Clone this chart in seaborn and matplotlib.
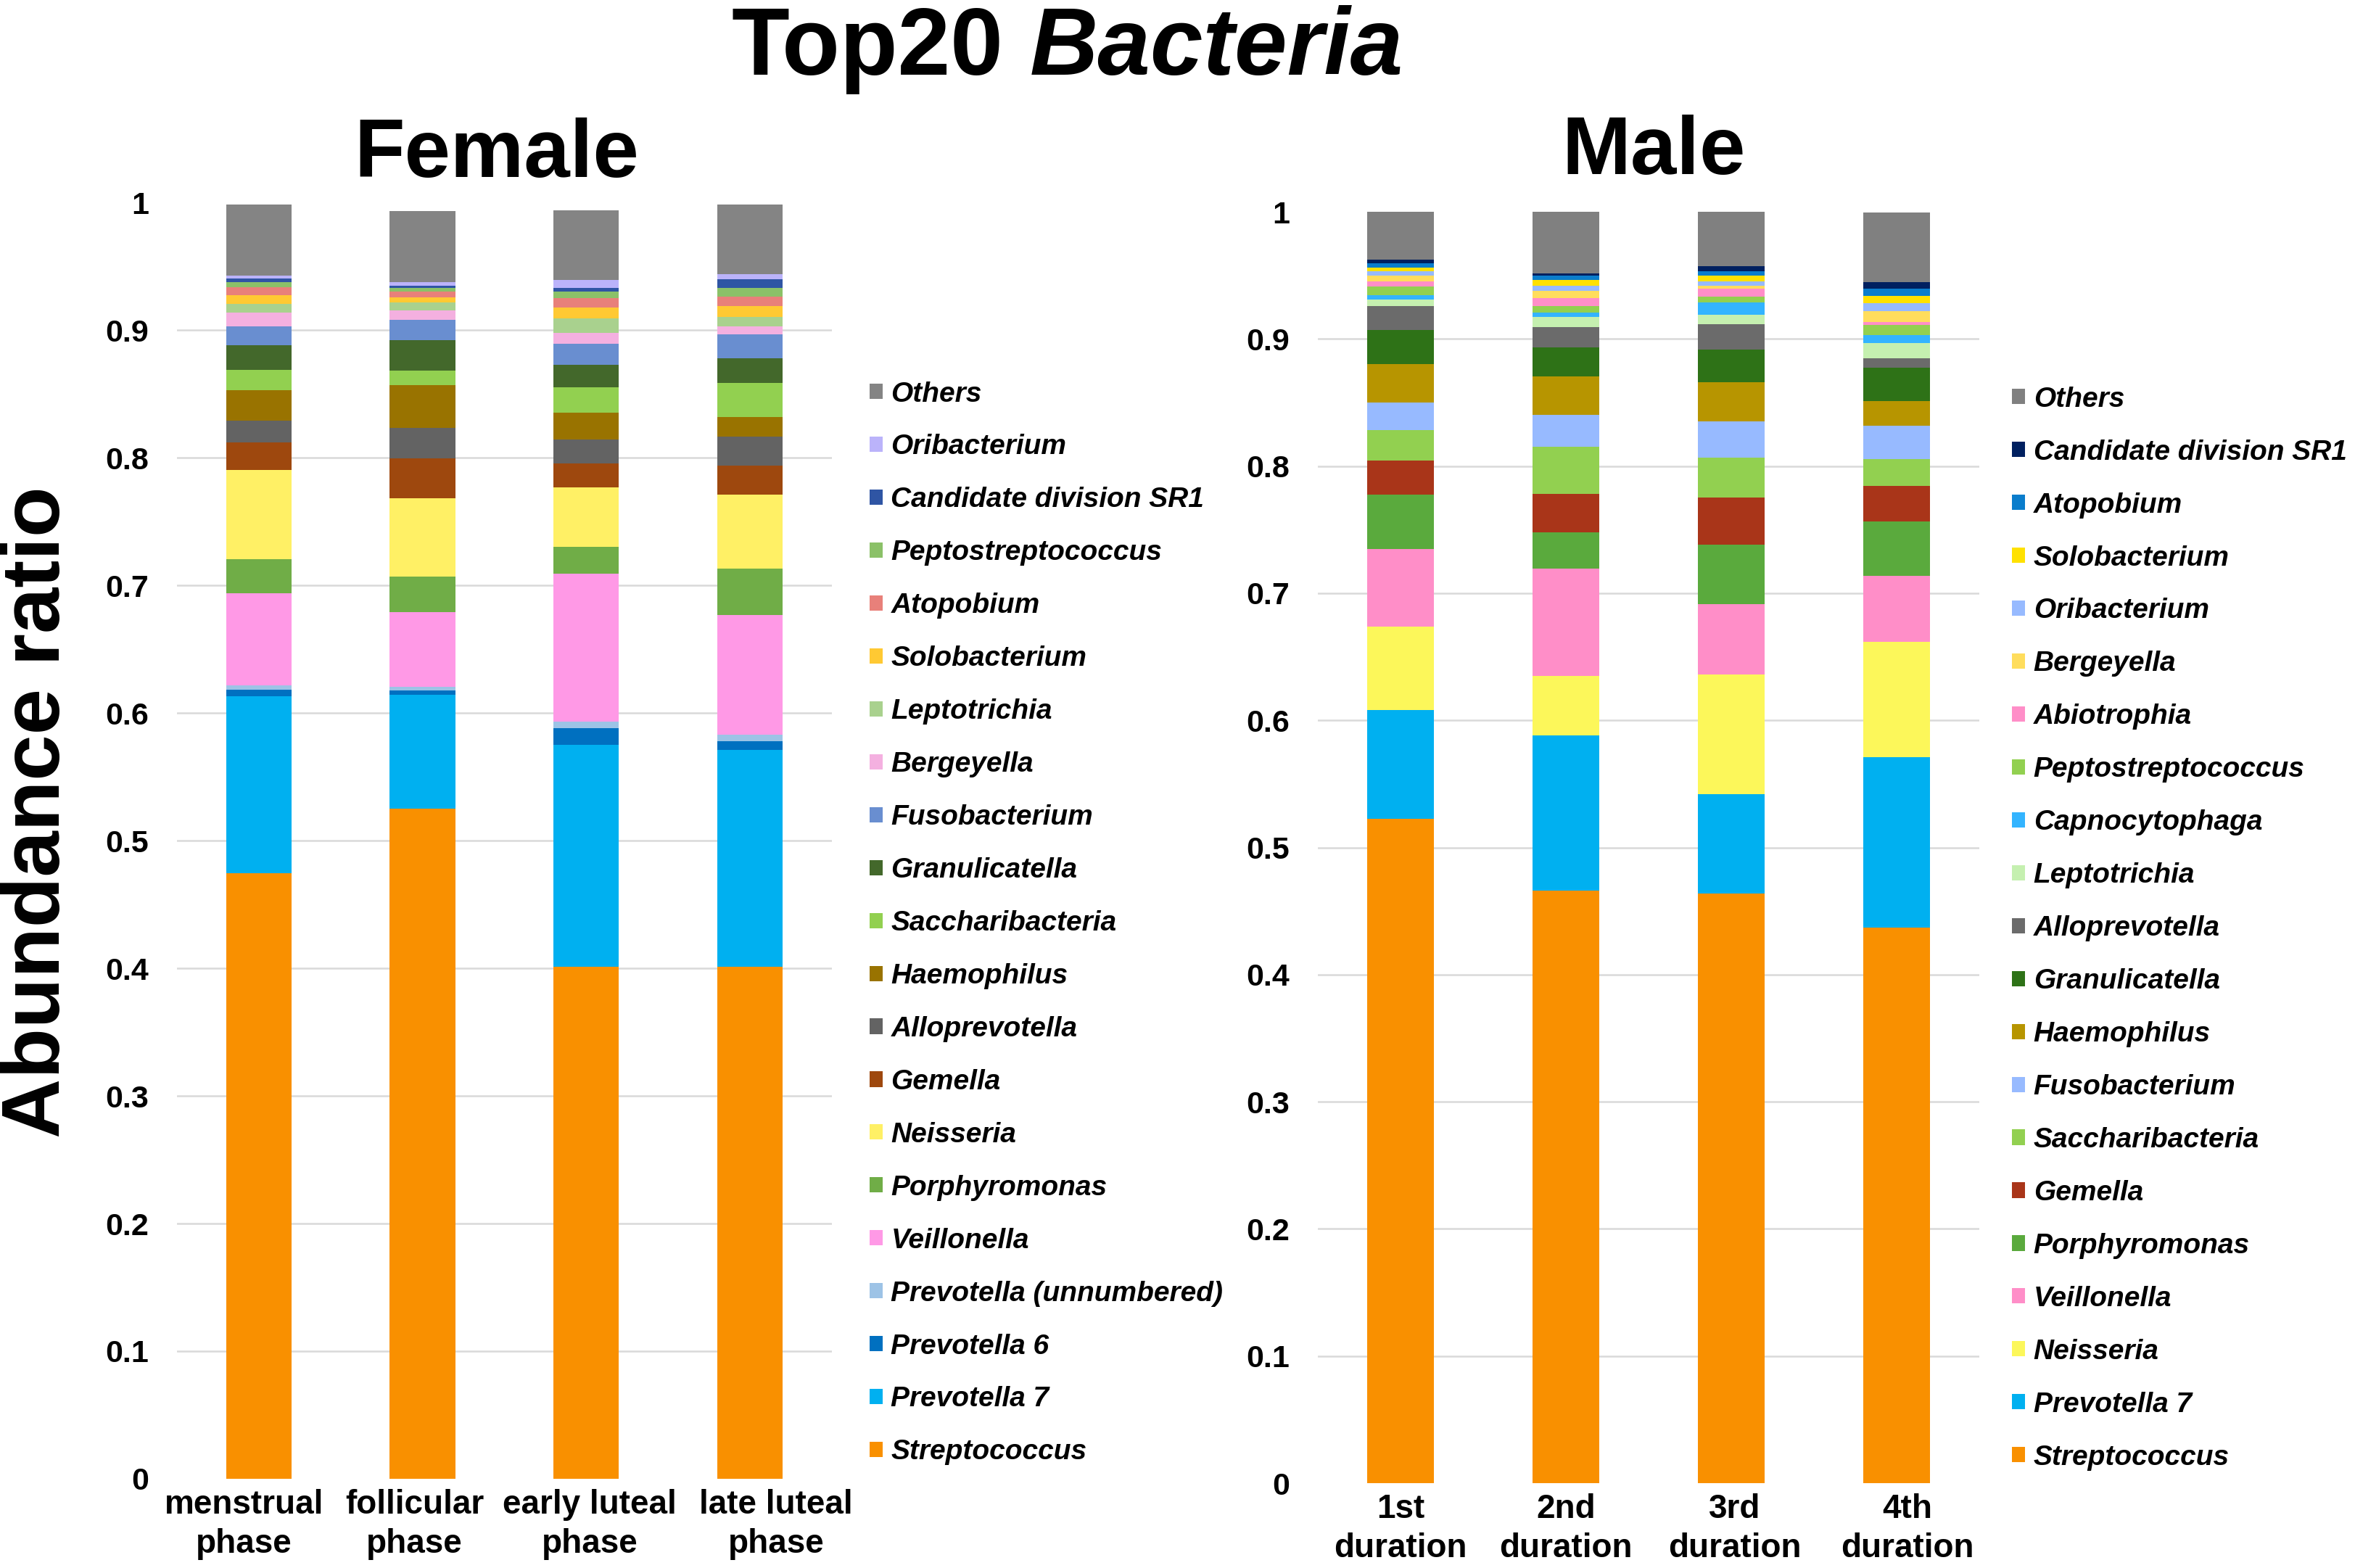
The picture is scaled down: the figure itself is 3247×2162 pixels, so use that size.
import numpy as np
import pandas as pd
import matplotlib
matplotlib.use("Agg")
import matplotlib.pyplot as plt
import matplotlib.transforms as mtransforms
from matplotlib.patches import Patch
import seaborn as sns

sns.set_style("white")
plt.rcParams['font.family'] = ['Liberation Sans', 'DejaVu Sans']
plt.rcParams['text.color'] = 'black'
plt.rcParams['xtick.color'] = 'black'
plt.rcParams['ytick.color'] = 'black'
plt.rcParams['axes.labelcolor'] = 'black'

# categories
female_phases = ["menstrual\nphase", "follicular\nphase", "early luteal\nphase", "late luteal\nphase"]
male_phases = ["1st\nduration", "2nd\nduration", "3rd\nduration", "4th\nduration"]

# taxa, bottom of the stack first
female_taxa = ["Streptococcus", "Prevotella 7", "Prevotella 6", "Prevotella (unnumbered)",
               "Veillonella", "Porphyromonas", "Neisseria", "Gemella", "Alloprevotella",
               "Haemophilus", "Saccharibacteria", "Granulicatella", "Fusobacterium",
               "Bergeyella", "Leptotrichia", "Solobacterium", "Atopobium",
               "Peptostreptococcus", "Candidate division SR1", "Oribacterium", "Others"]
female_colors = ["#F99000", "#00B0F0", "#0070C0", "#9DC3E6", "#FF99E6", "#70AD47",
                 "#FFF065", "#9E480E", "#636363", "#997300", "#92D050", "#43682B",
                 "#698ED0", "#F4B0E0", "#A9D18E", "#FFC933", "#E8807A", "#8BC168",
                 "#2F55A4", "#BBB3FA", "#848484"]

male_taxa = ["Streptococcus", "Prevotella 7", "Neisseria", "Veillonella", "Porphyromonas",
             "Gemella", "Saccharibacteria", "Fusobacterium", "Haemophilus",
             "Granulicatella", "Alloprevotella", "Leptotrichia", "Capnocytophaga",
             "Peptostreptococcus", "Abiotrophia", "Bergeyella", "Oribacterium",
             "Solobacterium", "Atopobium", "Candidate division SR1", "Others"]
male_colors = ["#F99000", "#00B0F0", "#FCF75A", "#FF8EC8", "#5AAA3D", "#A93519",
               "#92D050", "#97BAFF", "#B79500", "#2E7217", "#6B6B6B", "#C5F0B0",
               "#33B4FF", "#92D050", "#FF8EC8", "#FFDD5C", "#97BAFF", "#FFE100",
               "#0A7DCC", "#002060", "#808080"]

# abundance per bar, same order as the taxa lists
f_menstrual = [0.4746, 0.1385, 0.0050, 0.0033, 0.0722, 0.0267, 0.0700, 0.0217, 0.0172,
               0.0237, 0.0157, 0.0196, 0.0146, 0.0107, 0.0072, 0.0065, 0.0061, 0.0043,
               0.0028, 0.0022, 0.0559]
f_follicular = [0.5248, 0.0896, 0.0030, 0.0030, 0.0585, 0.0280, 0.0615, 0.0313, 0.0239,
                0.0333, 0.0115, 0.0239, 0.0157, 0.0072, 0.0065, 0.0041, 0.0041, 0.0030,
                0.0020, 0.0024, 0.0561]
f_early_luteal = [0.4010, 0.1741, 0.0130, 0.0050, 0.1161, 0.0207, 0.0470, 0.0187, 0.0187,
                  0.0209, 0.0200, 0.0176, 0.0163, 0.0087, 0.0111, 0.0087, 0.0072, 0.0054,
                  0.0030, 0.0063, 0.0541]
f_late_luteal = [0.4010, 0.1698, 0.0072, 0.0050, 0.0939, 0.0363, 0.0576, 0.0230, 0.0230,
                 0.0152, 0.0263, 0.0196, 0.0189, 0.0063, 0.0072, 0.0085, 0.0072, 0.0072,
                 0.0065, 0.0039, 0.0550]

m_1st = [0.5226, 0.0853, 0.0659, 0.0611, 0.0424, 0.0269, 0.0241, 0.0216, 0.0305, 0.0269,
         0.0185, 0.0055, 0.0032, 0.0066, 0.0041, 0.0046, 0.0032, 0.0032, 0.0034, 0.0030,
         0.0378]
m_2nd = [0.4661, 0.1222, 0.0466, 0.0845, 0.0285, 0.0303, 0.0369, 0.0250, 0.0303, 0.0230,
         0.0160, 0.0077, 0.0034, 0.0055, 0.0062, 0.0057, 0.0041, 0.0046, 0.0034, 0.0018,
         0.0485]
m_3rd = [0.4639, 0.0780, 0.0941, 0.0554, 0.0467, 0.0369, 0.0314, 0.0285, 0.0312, 0.0257,
         0.0196, 0.0077, 0.0098, 0.0043, 0.0066, 0.0023, 0.0030, 0.0046, 0.0034, 0.0039,
         0.0433]
m_4th = [0.4369, 0.1341, 0.0910, 0.0518, 0.0424, 0.0280, 0.0214, 0.0264, 0.0194, 0.0260,
         0.0077, 0.0118, 0.0064, 0.0075, 0.0023, 0.0089, 0.0064, 0.0052, 0.0057, 0.0052,
         0.0551]

y_ticks = [0, 0.1, 0.2, 0.3, 0.4, 0.5, 0.6, 0.7, 0.8, 0.9, 1]
y_ticklabels = ["0", "0.1", "0.2", "0.3", "0.4", "0.5", "0.6", "0.7", "0.8", "0.9", "1"]

fig = plt.figure(figsize=(16.24, 10.81), dpi=200)
ax_f = fig.add_axes([0.0751, 0.0569, 0.2780, 0.8140])
ax_m = fig.add_axes([0.5594, 0.0541, 0.2808, 0.8108])


def stacked(ax, phases, taxa, colors, bars, label_shift):
    df = pd.DataFrame(np.array(bars).T, index=taxa, columns=phases)
    cum = df.cumsum()
    # draw from the top layer down so each lower layer covers the one above
    for i in range(len(taxa) - 1, -1, -1):
        sns.barplot(x=phases, y=cum.iloc[i].values, color=colors[i], saturation=1,
                    width=0.4, errorbar=None, linewidth=0, ax=ax)
    ax.set_ylim(0, 1)
    ax.set_xlim(-0.5, 3.5)
    ax.set_yticks(y_ticks)
    ax.set_yticklabels(y_ticklabels)
    ax.yaxis.grid(True, color="#D9D9D9", linewidth=0.9)
    ax.get_ygridlines()[0].set_visible(False)
    ax.get_ygridlines()[-1].set_visible(False)
    ax.set_axisbelow(True)
    sns.despine(ax=ax, left=True, bottom=True)
    ax.tick_params(axis="both", length=0)
    ax.tick_params(axis="y", pad=14, labelsize=15.5)
    ax.tick_params(axis="x", pad=5, labelsize=16.5)
    for lab, dx in zip(ax.get_xticklabels(), label_shift):
        lab.set_fontweight("bold")
        lab.set_linespacing(1.3)
        lab.set_transform(lab.get_transform() +
                          mtransforms.ScaledTranslation(dx / 200, 0, fig.dpi_scale_trans))
    for lab in ax.get_yticklabels():
        lab.set_fontweight("bold")
    ax.set_xlabel("")
    ax.set_ylabel("")


stacked(ax_f, female_phases, female_taxa, female_colors,
        [f_menstrual, f_follicular, f_early_luteal, f_late_luteal], [-20, -11, 5, 36])
stacked(ax_m, male_phases, male_taxa, male_colors,
        [m_1st, m_2nd, m_3rd, m_4th], [0, 0, 5, 15])

leg_font = dict(size=14, weight="bold", style="italic")
for taxa, colors, x0, yc in [(female_taxa, female_colors, 0.3691, 0.4112),
                             (male_taxa, male_colors, 0.8541, 0.4079)]:
    handles = [Patch(facecolor=c, edgecolor="none") for c in colors[::-1]]
    fig.legend(handles, taxa[::-1], loc="center left", bbox_to_anchor=(x0, yc),
               bbox_transform=fig.transFigure, frameon=False, prop=leg_font,
               handlelength=0.46, handleheight=0.46, handletextpad=0.3,
               labelspacing=0.95, borderpad=0, borderaxespad=0)

# panel titles
fig.text(0.2109, 0.8871, "Female", ha="center", va="baseline", fontsize=41, fontweight="bold")
fig.text(0.7020, 0.8890, "Male", ha="center", va="baseline", fontsize=41, fontweight="bold")
fig.text(0.0163, 0.482, "Abundance ratio", rotation=90, ha="center", va="center",
         fontsize=41, fontweight="bold")

# main title: "Top20" upright, "Bacteria" italic
t1 = fig.text(0, 0.9524, "Top20", ha="left", va="baseline", fontsize=47, fontweight="bold")
t2 = fig.text(0, 0.9524, "Bacteria", ha="left", va="baseline", fontsize=47,
              fontweight="bold", fontstyle="italic")
renderer = fig.canvas.get_renderer()
w1 = t1.get_window_extent(renderer).width
w2 = t2.get_window_extent(renderer).width
gap = 0.278 * 47 * 200 / 72
W = fig.get_figwidth() * fig.dpi
start = 1472 - (w1 + gap + w2) / 2
t1.set_x(start / W)
t2.set_x((start + w1 + gap) / W)

fig.savefig("out.png", dpi=200)
